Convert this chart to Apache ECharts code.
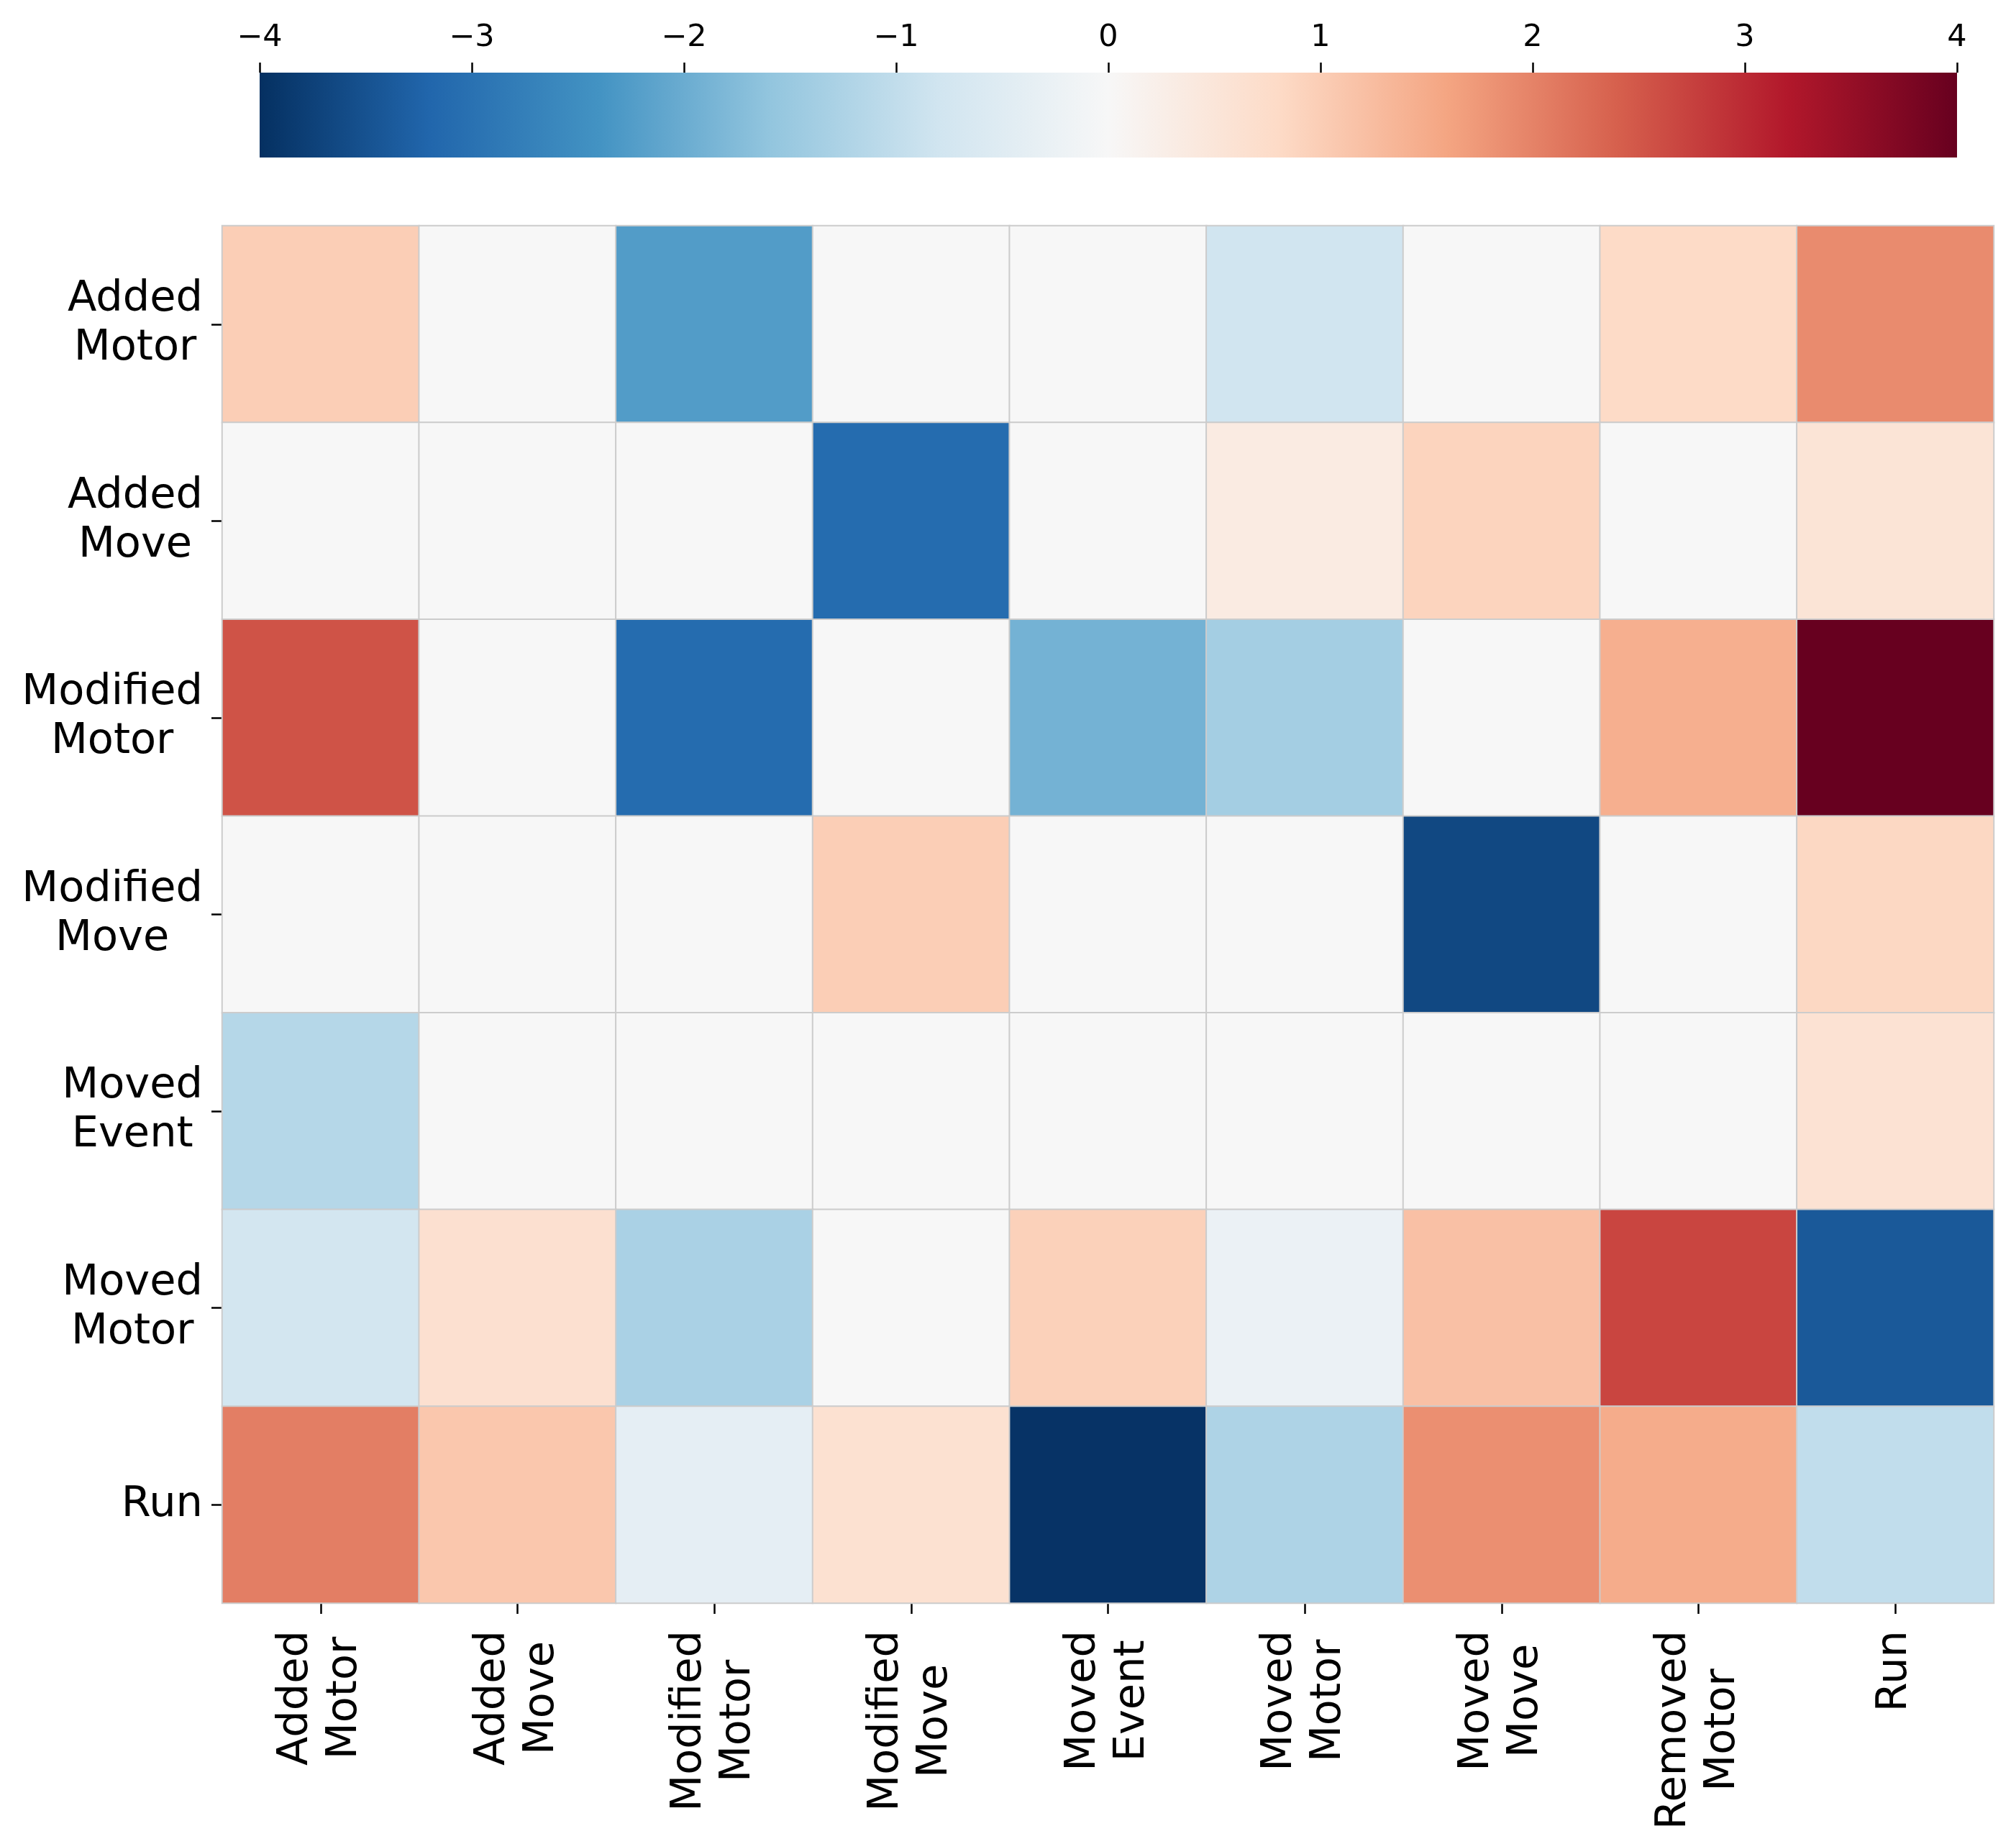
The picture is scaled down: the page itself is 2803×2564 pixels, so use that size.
<!DOCTYPE html>
<html>
<head>
<meta charset="utf-8">
<script src="https://cdn.jsdelivr.net/npm/echarts@6/dist/echarts.min.js"></script>
<style>
  html, body { margin: 0; padding: 0; background: #fff; }
  #main { width: 2803px; height: 2564px; }
</style>
</head>
<body>
<div id="main"></div>
<script>
// categories (columns left->right, rows top->bottom)
const colNames = ["Added Motor", "Added Move", "Modified Motor", "Modified Move", "Moved Event",
  "Moved Motor", "Moved Move", "Removed Motor", "Run"];
const rowNames = ["Added Motor", "Added Move", "Modified Motor", "Modified Move", "Moved Event",
  "Moved Motor", "Run"];

// one array per row
const rowAddedMotor    = [1.0, 0, -2.25, 0, 0, -0.8, 0, 0.8, 1.9];
const rowAddedMove     = [0, 0, 0, -3.1, 0, 0.35, 0.9, 0, 0.55];
const rowModifiedMotor = [2.55, 0, -3.1, 0, -1.9, -1.37, 0, 1.45, 4.0];
const rowModifiedMove  = [0, 0, 0, 1.0, 0, 0, -3.65, 0, 0.85];
const rowMovedEvent    = [-1.15, 0, 0, 0, 0, 0, 0, 0, 0.6];
const rowMovedMotor    = [-0.75, 0.65, -1.3, 0, 0.95, -0.25, 1.2, 2.7, -3.4];
const rowRun           = [2.05, 1.1, -0.38, 0.63, -3.95, -1.25, 1.85, 1.5, -1.0];

const rows = [rowAddedMotor, rowAddedMove, rowModifiedMotor, rowModifiedMove,
  rowMovedEvent, rowMovedMotor, rowRun];

const cbTicks = [-4, -3, -2, -1, 0, 1, 2, 3, 4];

// RdBu_r
const rdbu = ['#053061', '#2166ac', '#4393c3', '#92c5de', '#d1e5f0', '#f7f7f7',
  '#fddbc7', '#f4a582', '#d6604d', '#b2182b', '#67001f'];

var data = [];
rows.forEach(function (r, yi) {
  r.forEach(function (v, xi) {
    data.push([xi, yi, v]);
  });
});

const font = 'DejaVu Sans';
const twoLine = function (v) {
  return v.split(' ').map(function (w) { return '{c|' + w + '}'; }).join('\n');
};
const richC = { c: { align: 'center', fontSize: 59, lineHeight: 68, fontFamily: font, color: '#000' } };

// colour bar gradient built from the same palette as the visualMap
const cbStops = rdbu.map(function (c, i) { return { offset: i / (rdbu.length - 1), color: c }; });

var chart = echarts.init(document.getElementById('main'));

var option = {
  animation: false,
  backgroundColor: '#fff',
  grid: [
    { left: 309, top: 314, width: 2463, height: 1915, containLabel: false },
    { left: 361, top: 101, width: 2360, height: 118, containLabel: false }
  ],
  xAxis: [
    {
      type: 'category',
      gridIndex: 0,
      data: colNames,
      position: 'bottom',
      axisLine: { show: false },
      axisTick: { show: true, alignWithLabel: true, length: 15, lineStyle: { color: '#000', width: 2.5 } },
      axisLabel: {
        interval: 0, rotate: 90, margin: 38,
        formatter: twoLine, rich: richC,
        fontSize: 59, fontFamily: font, color: '#000'
      },
      splitLine: { show: false }
    },
    {
      type: 'value',
      gridIndex: 1,
      position: 'top',
      min: cbTicks[0],
      max: cbTicks[cbTicks.length - 1],
      interval: 1,
      axisLine: { show: false, onZero: false },
      axisTick: { show: true, length: 14, lineStyle: { color: '#000', width: 2.5 } },
      axisLabel: {
        margin: 27, fontSize: 43, fontFamily: font, color: '#000',
        formatter: function (v) { return v < 0 ? '\u2212' + Math.abs(v) : String(v); }
      },
      splitLine: { show: false }
    }
  ],
  yAxis: [
    {
      type: 'category',
      gridIndex: 0,
      data: rowNames,
      inverse: true,
      axisLine: { show: false },
      axisTick: { show: true, alignWithLabel: true, length: 15, lineStyle: { color: '#000', width: 2.5 } },
      axisLabel: {
        interval: 0, margin: 27,
        formatter: twoLine, rich: richC,
        fontSize: 59, fontFamily: font, color: '#000'
      },
      splitLine: { show: false }
    },
    {
      type: 'value',
      gridIndex: 1,
      show: false,
      min: 0,
      max: 1
    }
  ],
  visualMap: {
    type: 'continuous',
    show: false,
    min: -4,
    max: 4,
    seriesIndex: 0,
    inRange: { color: rdbu }
  },
  graphic: [
    {
      type: 'rect',
      left: 361,
      top: 101,
      shape: { width: 2360, height: 118 },
      style: { fill: new echarts.graphic.LinearGradient(0, 0, 1, 0, cbStops) },
      silent: true
    }
  ],
  series: [
    {
      type: 'heatmap',
      xAxisIndex: 0,
      yAxisIndex: 0,
      data: data,
      itemStyle: { borderColor: '#cccccc', borderWidth: 2 },
      emphasis: { disabled: true }
    }
  ]
};

chart.setOption(option);
</script>
</body>
</html>
